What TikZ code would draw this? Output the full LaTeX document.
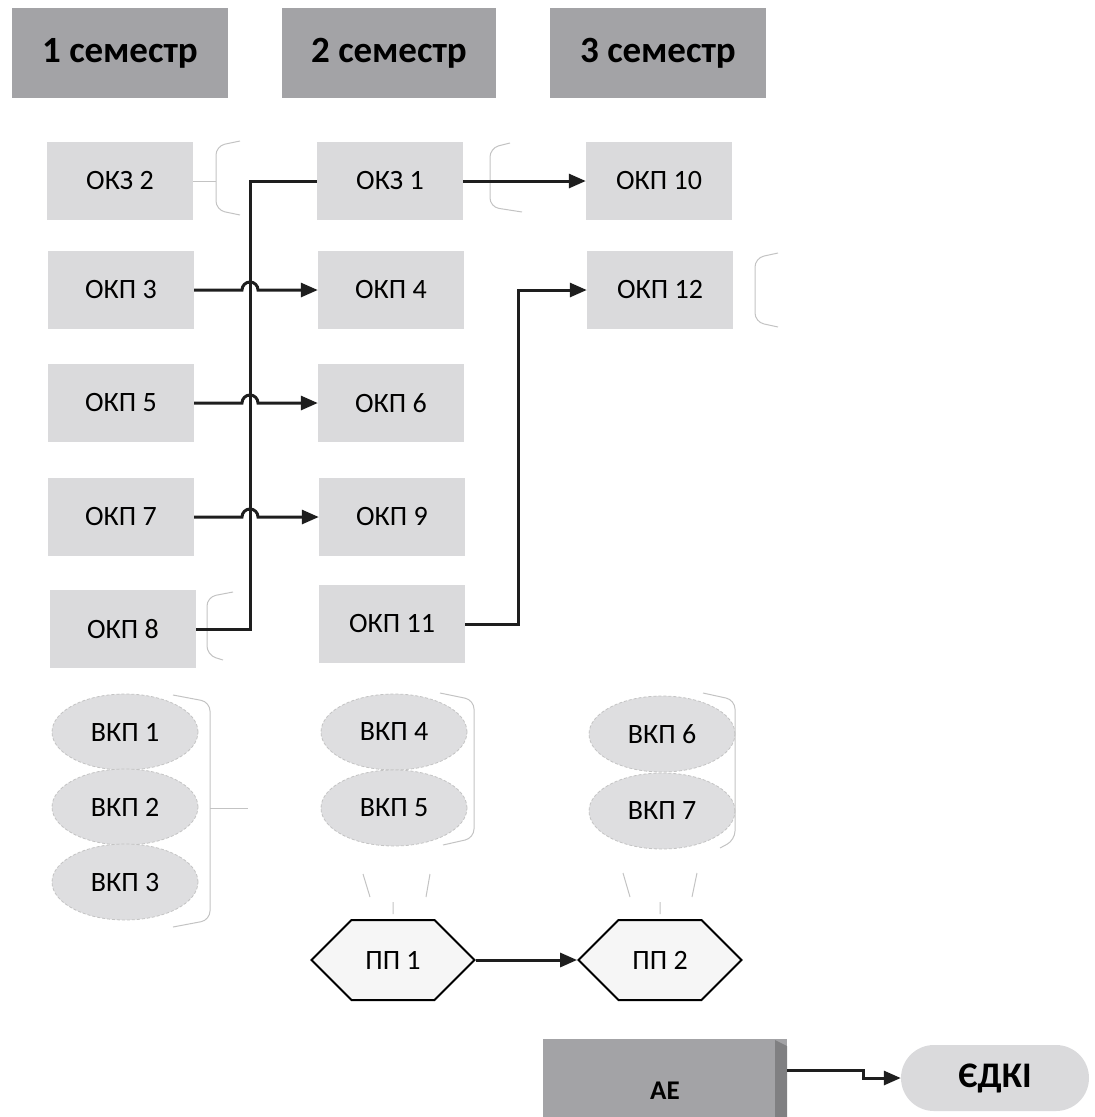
\documentclass[tikz,border=0pt]{standalone}
\usepackage{fontspec}
\setmainfont{Carlito}
\usetikzlibrary{arrows.meta,shapes.geometric,shapes.symbols,shapes.misc,calc}
\definecolor{hdr}{RGB}{163,163,166}
\definecolor{hdrdark}{RGB}{128,128,130}
\definecolor{boxf}{RGB}{218,218,220}
\definecolor{ellf}{RGB}{222,222,224}
\definecolor{faint}{RGB}{195,195,195}
\definecolor{ln}{RGB}{30,30,30}
\begin{document}
\begin{tikzpicture}[x=1pt,y=-1pt,
  hdrbox/.style={fill=hdr, minimum width=216pt, minimum height=90pt, inner sep=0pt,
    font=\fontsize{37}{42}\selectfont\bfseries},
  okbox/.style={fill=boxf, minimum width=146pt, minimum height=78pt, inner sep=0pt,
    font=\fontsize{28}{32}\selectfont},
  vkp/.style={ellipse, fill=ellf, draw=faint, densely dashed, line width=0.8pt,
    minimum width=146pt, minimum height=76pt, inner sep=0pt,
    font=\fontsize{28}{32}\selectfont},
  hexa/.style={signal, signal to=east and west, signal pointer angle=90,
    fill=gray!7, draw=black, line width=2pt, minimum width=163pt, minimum height=80pt,
    inner sep=0pt, font=\fontsize{28}{32}\selectfont},
  conn/.style={draw=ln, line width=3pt},
  arr/.style={conn, -{Triangle[length=17pt,width=14pt]}},
  brk/.style={draw=faint, line width=1pt, rounded corners=9pt},
]
\useasboundingbox (0,0) rectangle (1095,1117);

% headers
\node[hdrbox] (h1) at (120,53) {1 семестр};
\node[hdrbox, minimum width=214pt] (h2) at (389,53) {2 семестр};
\node[hdrbox] (h3) at (658,53) {3 семестр};

% column 1
\node[okbox] (okz2) at (120,181) {ОКЗ 2};
\node[okbox] (okp3) at (121,290) {ОКП 3};
\node[okbox] (okp5) at (121,403) {ОКП 5};
\node[okbox] (okp7) at (121,517) {ОКП 7};
\node[okbox] (okp8) at (123,629) {ОКП 8};
% column 2
\node[okbox] (okz1) at (390,181) {ОКЗ 1};
\node[okbox] (okp4) at (391,290) {ОКП 4};
\node[okbox] (okp6) at (391,403) {ОКП 6};
\node[okbox] (okp9) at (392,517) {ОКП 9};
\node[okbox] (okp11) at (392,624) {ОКП 11};
% column 3
\node[okbox] (okp10) at (659,181) {ОКП 10};
\node[okbox] (okp12) at (660,290) {ОКП 12};

% faint brackets
\draw[brk] (240,141) -- (216,146) -- (216,210) -- (240,215);
\draw[draw=faint, line width=1pt] (okz2.east) -- (216,181);
\draw[brk] (510,143) -- (490,148) -- (490,207) -- (522,212);
\draw[brk] (778,253) -- (755,258) -- (755,322) -- (778,327);
\draw[brk] (233,592) -- (207,597) -- (207,655) -- (223,660);

% elective ellipses
\node[vkp] (v1) at (125,732) {ВКП 1};
\node[vkp] (v2) at (125,807) {ВКП 2};
\node[vkp] (v3) at (125,882) {ВКП 3};
\node[vkp] (v4) at (394,732) {ВКП 4};
\node[vkp] (v5) at (394,808) {ВКП 5};
\node[vkp] (v6) at (662,734) {ВКП 6};
\node[vkp] (v7) at (662,811) {ВКП 7};

\draw[brk] (173,695) -- (210,702) -- (210,920) -- (173,927);
\draw[draw=faint, line width=1pt] (210,808) -- (248,808);
\draw[brk] (440,693) -- (474,700) -- (474,838) -- (443,845);
\draw[brk] (703,693) -- (735,700) -- (735,840) -- (720,848);

\draw[draw=faint, line width=1pt] (363,874) -- (370,897) (430,874) -- (426,897) (393,902) -- (393,914);
\draw[draw=faint, line width=1pt] (623,873) -- (630,897) (697,873) -- (692,897) (660,902) -- (660,914);

% practice hexagons
\node[hexa] (pp1) at (393,960) {ПП 1};
\node[hexa] (pp2) at (660,960) {ПП 2};

% attestation
\node[fill=hdr, minimum width=244pt, inner sep=0pt, text height=60pt, text depth=18pt,
  font=\fontsize{27}{30}\selectfont\bfseries] (ae) at (665,1078) {АЕ};
\fill[hdrdark] (775,1040) -- (787,1046) -- (787,1117) -- (775,1117) -- cycle;
\node[rounded rectangle, fill=boxf, minimum width=188pt, minimum height=66pt, inner sep=0pt,
  font=\fontsize{36}{40}\selectfont\bfseries] (edki) at (995,1078) {ЄДКІ};

% connectors
\coordinate (vx) at (250,0);
\draw[conn] (okp8.east) -- (vx |- okp8.east) -- (vx |- okz1.west) -- (okz1.west);
\foreach \a/\b in {okp3/okp4, okp5/okp6, okp7/okp9}{
  \draw[arr] (\a.east) -- ([xshift=-8pt]vx |- \a.east) arc[start angle=180, end angle=0, radius=8pt] -- (\b.west);
}
\draw[arr] (okz1.east) -- (okp10.west);
\coordinate (vy) at (518,0);
\draw[arr] (okp11.east) -- (vy |- okp11.east) |- (okp12.west);
\draw[arr] (pp1.east) -- (pp2.west);
\coordinate (vz) at (863,0);
\coordinate (aeo) at ([yshift=8pt]ae.east);
\draw[arr] (aeo) -- (vz |- aeo) |- (edki.west);
\end{tikzpicture}
\end{document}
